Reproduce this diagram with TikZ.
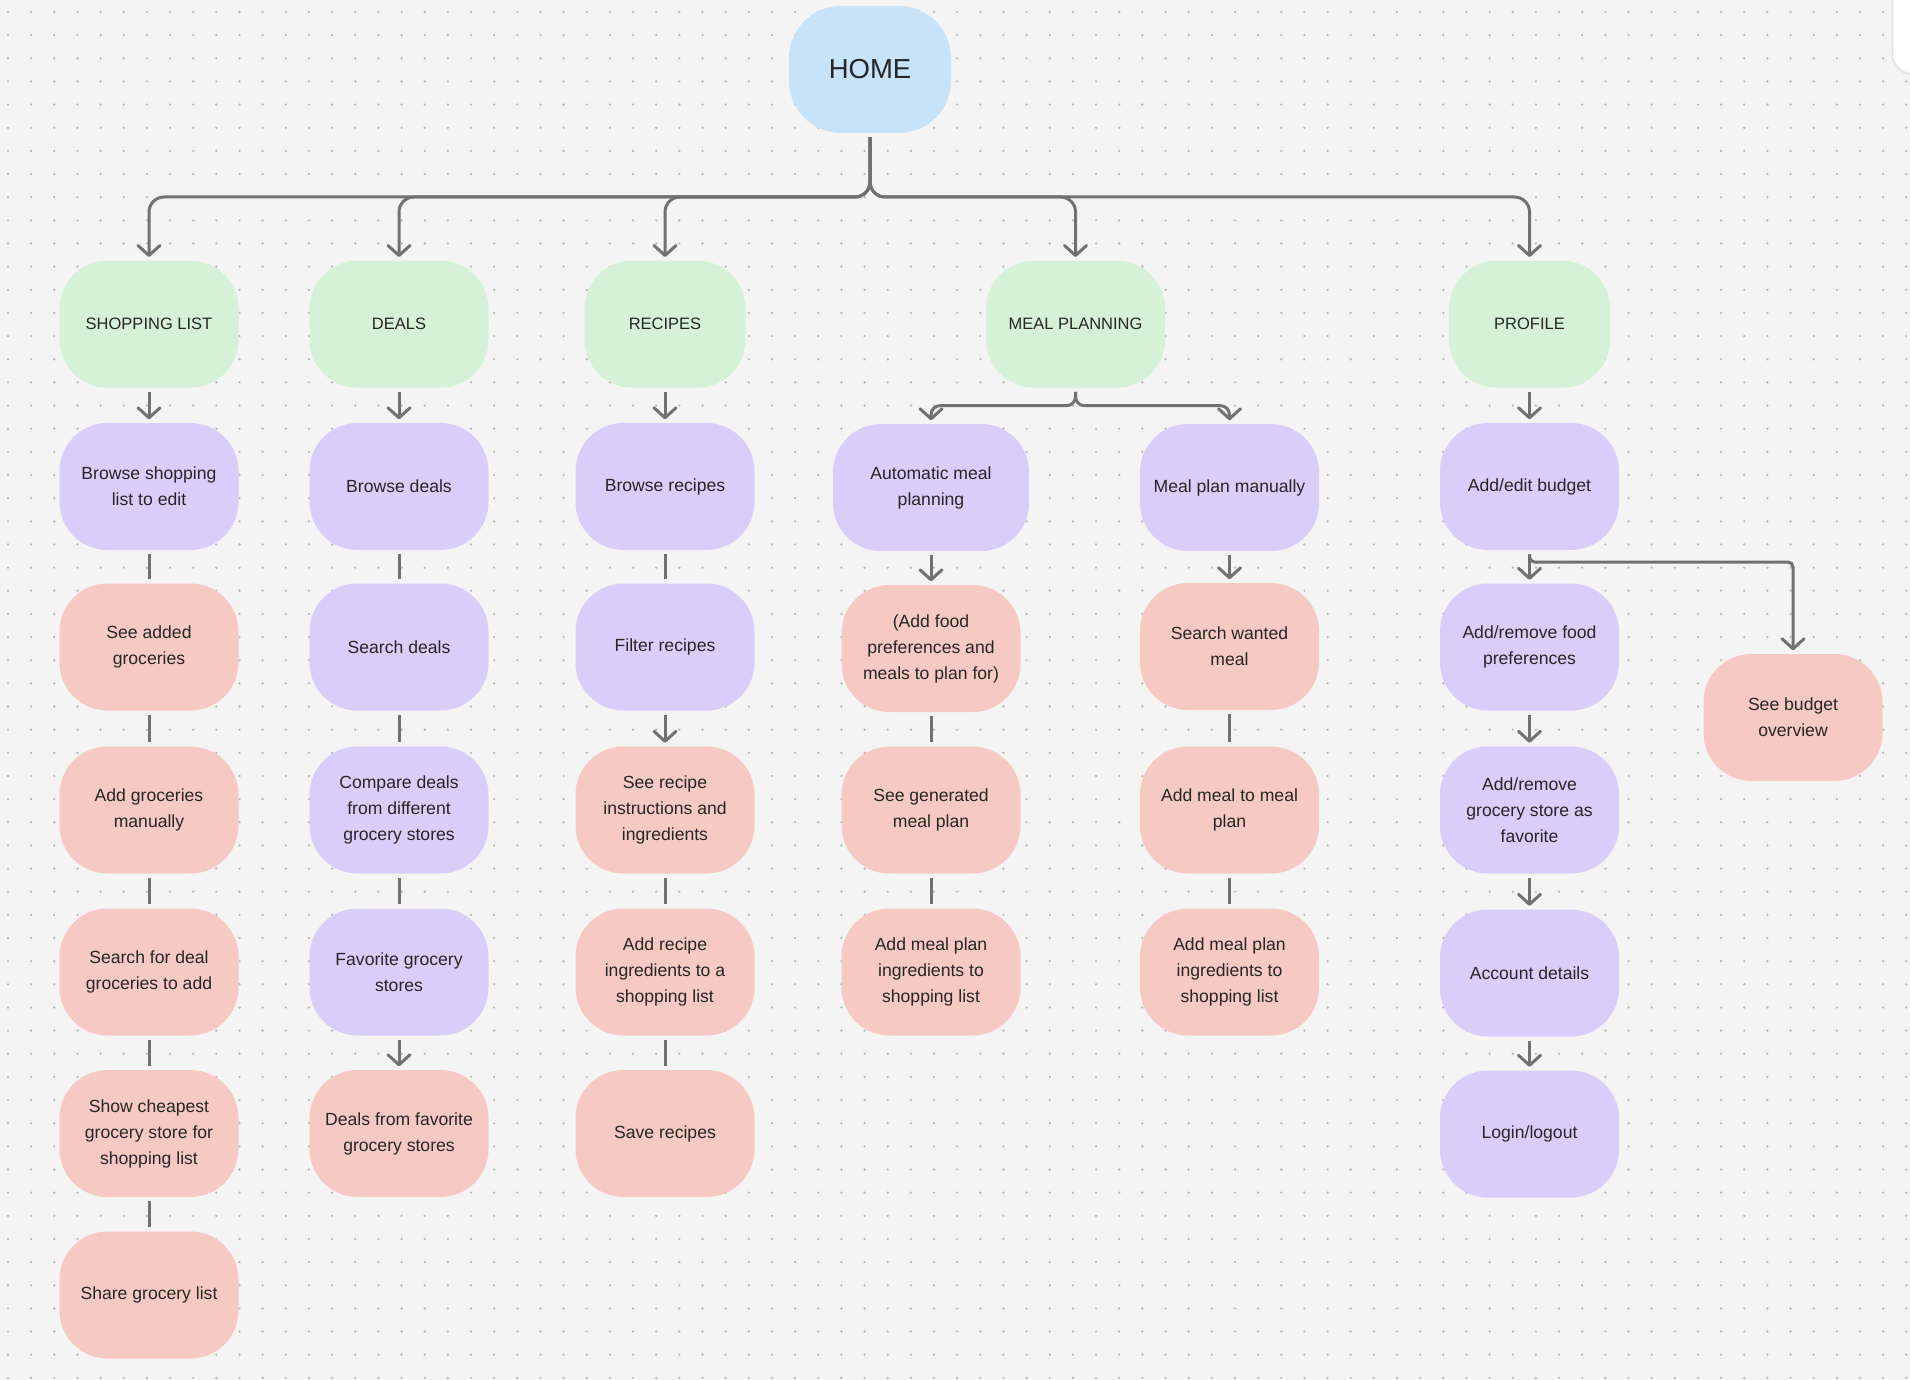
\documentclass[tikz,border=0pt]{standalone}
\usepackage{fontspec}
\setmainfont{Liberation Sans}
\usetikzlibrary{arrows.meta}
\definecolor{bg}{HTML}{F4F4F4}
\definecolor{dotc}{HTML}{B8B8B8}
\definecolor{homec}{HTML}{C7E3FA}
\definecolor{greenc}{HTML}{D5F1D7}
\definecolor{purplec}{HTML}{D9CEF9}
\definecolor{pinkc}{HTML}{F6C9C2}
\definecolor{linec}{HTML}{717171}
\definecolor{txt}{HTML}{262626}
\begin{document}
\begin{tikzpicture}[x=1pt,y=-1pt,
  box/.style={rectangle, rounded corners=48pt, minimum width=179pt, minimum height=127pt,
    inner sep=0pt, align=center, text=txt, font=\fontsize{17.6}{26}\selectfont},
  homebox/.style={box, fill=homec, minimum width=162pt, rounded corners=52pt,
    font=\fontsize{27.5}{30}\selectfont},
  sect/.style={box, fill=greenc, font=\fontsize{16.5}{20}\selectfont},
  sectn/.style={sect, minimum width=161pt},
  pbox/.style={box, fill=purplec},
  rbox/.style={box, fill=pinkc},
  conn/.style={draw=linec, line width=3pt, shorten <=4pt},
  arr/.style={conn, -{Straight Barb[length=10pt,width=22pt,round]}, shorten >=3.5pt},
  link/.style={conn, shorten >=4pt},
]
\useasboundingbox (0,0) rectangle (1910,1380);
\clip (0,0) rectangle (1910,1380);
\fill[bg] (0,0) rectangle (1910,1380);
\foreach \i in {0,...,82} {
  \foreach \j in {0,...,59} {
    \fill[dotc] (8+23.15*\i, 12+23.15*\j) circle (1.3pt);
  }
}
% top-right panel
\fill[black!10, rounded corners=20pt] (1891.5,-40) rectangle (1980,75);
\fill[white, rounded corners=20pt] (1893.3,-40) rectangle (1980,73);

% nodes
\node[homebox] (home) at (870,69.5) {HOME};

\node[sect] (sl) at (149,324.2) {SHOPPING LIST};
\node[sect] (de) at (399,324.2) {DEALS};
\node[sectn] (re) at (665,324.2) {RECIPES};
\node[sect] (mp) at (1075.5,324.2) {MEAL PLANNING};
\node[sectn] (pr) at (1529.5,324.2) {PROFILE};

% column 1
\node[pbox] (sl1) at (149,486.5) {Browse shopping\\list to edit};
\node[rbox] (sl2) at (149,647) {See added\\groceries};
\node[rbox] (sl3) at (149,810) {Add groceries\\manually};
\node[rbox] (sl4) at (149,972) {Search for deal\\groceries to add};
\node[rbox] (sl5) at (149,1133.5) {Show cheapest\\grocery store for\\shopping list};
\node[rbox] (sl6) at (149,1295) {Share grocery list};

% column 2
\node[pbox] (de1) at (399,486.5) {Browse deals};
\node[pbox] (de2) at (399,647) {Search deals};
\node[pbox] (de3) at (399,810) {Compare deals\\from different\\grocery stores};
\node[pbox] (de4) at (399,972) {Favorite grocery\\stores};
\node[rbox] (de5) at (399,1133.5) {Deals from favorite\\grocery stores};

% column 3
\node[pbox] (re1) at (665,486.5) {Browse recipes};
\node[pbox] (re2) at (665,647) {Filter recipes};
\node[rbox] (re3) at (665,810) {See recipe\\instructions and\\ingredients};
\node[rbox] (re4) at (665,972) {Add recipe\\ingredients to a\\shopping list};
\node[rbox] (re5) at (665,1133.5) {Save recipes};

% meal planning
\node[pbox, minimum width=196pt] (ma1) at (931,487.5) {Automatic meal\\planning};
\node[rbox] (ma2) at (931,648.5) {(Add food\\preferences and\\meals to plan for)};
\node[rbox] (ma3) at (931,810) {See generated\\meal plan};
\node[rbox] (ma4) at (931,972) {Add meal plan\\ingredients to\\shopping list};
\node[pbox] (mm1) at (1229.5,487.5) {Meal plan manually};
\node[rbox] (mm2) at (1229.5,646.5) {Search wanted\\meal};
\node[rbox] (mm3) at (1229.5,810) {Add meal to meal\\plan};
\node[rbox] (mm4) at (1229.5,972) {Add meal plan\\ingredients to\\shopping list};

% profile
\node[pbox] (pr1) at (1529.5,486.5) {Add/edit budget};
\node[pbox] (pr2) at (1529.5,647) {Add/remove food\\preferences};
\node[pbox] (pr3) at (1529.5,810) {Add/remove\\grocery store as\\favorite};
\node[pbox] (pr4) at (1529.5,973) {Account details};
\node[pbox] (pr5) at (1529.5,1134) {Login/logout};
\node[rbox] (bo) at (1793,717.5) {See budget\\overview};

% connectors from HOME
\coordinate (bus) at (870,197);
\foreach \t in {sl,de,re,mp,pr}
  \draw[arr, rounded corners=15pt] (home.south) -- (bus) -| (\t.north);

% meal planning split
\coordinate (mbus) at (1075.5,405.7);
\foreach \t in {ma1,mm1}
  \draw[arr, rounded corners=9pt] (mp.south) -- (mbus) -| (\t.north);

% column arrows / links
\draw[arr] (sl.south) -- (sl1.north);
\draw[link] (sl1.south) -- (sl2.north);
\draw[link] (sl2.south) -- (sl3.north);
\draw[link] (sl3.south) -- (sl4.north);
\draw[link] (sl4.south) -- (sl5.north);
\draw[link] (sl5.south) -- (sl6.north);

\draw[arr] (de.south) -- (de1.north);
\draw[link] (de1.south) -- (de2.north);
\draw[link] (de2.south) -- (de3.north);
\draw[link] (de3.south) -- (de4.north);
\draw[arr] (de4.south) -- (de5.north);

\draw[arr] (re.south) -- (re1.north);
\draw[link] (re1.south) -- (re2.north);
\draw[arr] (re2.south) -- (re3.north);
\draw[link] (re3.south) -- (re4.north);
\draw[link] (re4.south) -- (re5.north);

\draw[arr] (ma1.south) -- (ma2.north);
\draw[link] (ma2.south) -- (ma3.north);
\draw[link] (ma3.south) -- (ma4.north);
\draw[arr] (mm1.south) -- (mm2.north);
\draw[link] (mm2.south) -- (mm3.north);
\draw[link] (mm3.south) -- (mm4.north);

\draw[arr] (pr.south) -- (pr1.north);
\draw[arr] (pr1.south) -- (pr2.north);
\draw[arr] (pr2.south) -- (pr3.north);
\draw[arr] (pr3.south) -- (pr4.north);
\draw[arr] (pr4.south) -- (pr5.north);

\coordinate (bbus) at (1529.5,562);
\coordinate (bturn) at (1793,562);
\draw[arr] (pr1.south) [rounded corners=5pt] -- (bbus) -- (bturn) [rounded corners=16pt] -- (bo.north);
\end{tikzpicture}
\end{document}
